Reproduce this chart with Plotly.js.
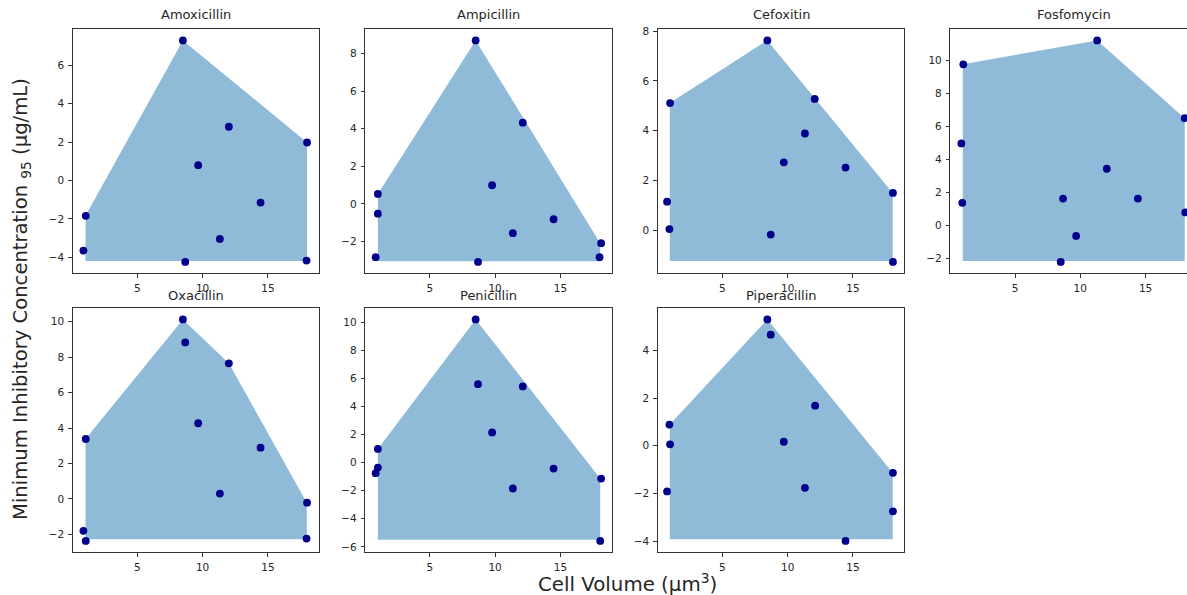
<!DOCTYPE html>
<html>
<head>
<meta charset="utf-8">
<script src="https://cdn.plot.ly/plotly-3.0.1.min.js"></script>
<style>html,body{margin:0;padding:0;background:#fff;}#chart{width:1187px;height:595px;}</style>
</head>
<body>
<div id="chart"></div>
<script>
// ---- data ----
const drugNames = ['Amoxicillin', 'Ampicillin', 'Cefoxitin', 'Fosfomycin', 'Oxacillin', 'Penicillin', 'Piperacillin'];

const amoxX = [8.49, 12.01, 9.66, 18.0, 14.44, 1.05, 11.32, 0.87, 8.67, 17.96];
const amoxY = [7.30, 2.80, 0.80, 1.98, -1.15, -1.84, -3.04, -3.65, -4.24, -4.17];
const ampX = [8.51, 12.12, 9.77, 1.02, 1.02, 14.48, 11.36, 18.12, 0.85, 18.0, 8.69];
const ampY = [8.70, 4.32, 0.99, 0.53, -0.52, -0.82, -1.56, -2.09, -2.84, -2.84, -3.09];
const cefX = [8.44, 0.99, 12.07, 11.32, 9.70, 14.43, 18.06, 0.76, 0.94, 8.70, 18.06];
const cefY = [7.63, 5.11, 5.28, 3.89, 2.73, 2.52, 1.50, 1.15, 0.05, -0.17, -1.27];
const fosX = [11.29, 1.04, 18.0, 0.89, 12.03, 8.68, 14.41, 0.96, 18.04, 9.68, 8.50];
const fosY = [11.19, 9.74, 6.49, 4.96, 3.43, 1.63, 1.63, 1.37, 0.79, -0.63, -2.20];
const oxaX = [8.49, 8.67, 12.01, 9.66, 1.05, 14.44, 11.32, 18.0, 0.87, 17.96, 1.05];
const oxaY = [10.13, 8.83, 7.65, 4.27, 3.38, 2.89, 0.30, -0.21, -1.80, -2.24, -2.37];
const penX = [8.51, 8.69, 12.12, 9.77, 1.02, 1.02, 14.48, 0.85, 18.12, 11.36, 18.05];
const penY = [10.19, 5.58, 5.42, 2.14, 0.97, -0.36, -0.43, -0.76, -1.14, -1.85, -5.58];
const pipX = [8.44, 8.70, 12.10, 0.94, 0.99, 9.70, 0.76, 11.32, 18.06, 18.06, 14.43];
const pipY = [5.29, 4.65, 1.68, 0.89, 0.06, 0.17, -1.91, -1.76, -1.13, -2.74, -3.98];

// upper edge of each shaded region (left to right) and its flat floor
const amoxHullX = [1.03, 8.49, 18.0];         const amoxHullY = [-1.84, 7.30, 1.98];
const ampHullX  = [1.02, 8.51, 18.05];        const ampHullY  = [0.53, 8.70, -2.09];
const cefHullX  = [0.97, 8.44, 18.04];        const cefHullY  = [5.11, 7.63, 1.50];
const fosHullX  = [1.0, 11.29, 18.0];         const fosHullY  = [9.74, 11.19, 6.49];
const oxaHullX  = [1.03, 8.49, 12.01, 17.98]; const oxaHullY  = [3.38, 10.13, 7.65, -0.21];
const penHullX  = [1.02, 8.51, 18.05];        const penHullY  = [0.97, 10.19, -1.14];
const pipHullX  = [0.97, 8.44, 18.04];        const pipHullY  = [0.89, 5.29, -1.13];
const hullFloors = [-4.19, -3.05, -1.23, -2.14, -2.27, -5.49, -3.91];

const xTickVals = [5, 10, 15];

// ---- layout geometry (pixels) ----
const W = 1187, H = 595;
const colLeft = [72.7, 365.2, 657.8, 950.4];
const colW = 246.5;
const rowTop = [29.3, 308.3];
const rowH = 243.7;

const series = [
  [amoxX, amoxY, amoxHullX, amoxHullY],
  [ampX, ampY, ampHullX, ampHullY],
  [cefX, cefY, cefHullX, cefHullY],
  [fosX, fosY, fosHullX, fosHullY],
  [oxaX, oxaY, oxaHullX, oxaHullY],
  [penX, penY, penHullX, penHullY],
  [pipX, pipY, pipHullX, pipHullY]
];

const traces = [];
const layout = {
  width: W, height: H,
  margin: {l: 0, r: 0, t: 0, b: 0},
  paper_bgcolor: '#ffffff', plot_bgcolor: '#ffffff',
  showlegend: false,
  font: {family: 'DejaVu Sans, sans-serif', color: '#262626'},
  annotations: []
};

const XR = [0.05, 18.93];

series.forEach((s, i) => {
  const [xs, ys, hx, hy] = s;
  const floor = hullFloors[i];
  const row = Math.floor(i / 4), col = i % 4;
  const k = i === 0 ? '' : String(i + 1);
  const xa = 'x' + k, ya = 'y' + k;

  // fill polygon
  const px = hx.concat([hx[hx.length - 1], hx[0]]);
  const py = hy.concat([floor, floor]);
  traces.push({
    type: 'scatter', mode: 'lines', x: px, y: py, fill: 'toself',
    fillcolor: 'rgba(31,119,180,0.5)', line: {width: 0, color: 'rgba(0,0,0,0)'},
    xaxis: xa, yaxis: ya, hoverinfo: 'skip'
  });
  traces.push({
    type: 'scatter', mode: 'markers', x: xs, y: ys,
    marker: {color: '#00008b', size: 7.8},
    xaxis: xa, yaxis: ya
  });

  const allY = ys.concat([floor]).concat(hy);
  const ymin = Math.min(...allY), ymax = Math.max(...allY);
  const pad = 0.05 * (ymax - ymin);

  const x0 = colLeft[col];
  let x1 = x0 + colW;
  let xr = XR.slice();
  let clipped = false;
  if (x1 > W) {
    clipped = true;
    xr = [XR[0], XR[0] + (W - x0) / colW * (XR[1] - XR[0])];
    x1 = W;
  }
  const y0 = rowTop[row], y1 = y0 + rowH;

  const axCommon = {
    showgrid: false, zeroline: false, showline: true, linecolor: '#333333', linewidth: 1,
    ticks: 'outside', ticklen: 3.5, tickwidth: 1, tickcolor: '#333333', ticklabelstandoff: 2,
    tickfont: {size: 10.5, color: '#262626', family: 'DejaVu Sans, sans-serif'}
  };
  layout['xaxis' + k] = Object.assign({}, axCommon, {
    domain: [x0 / W, x1 / W], range: xr, tickvals: xTickVals, mirror: true,
    anchor: ya
  });
  layout['yaxis' + k] = Object.assign({}, axCommon, {
    domain: [1 - y1 / H, 1 - y0 / H], range: [ymin - pad, ymax + pad], dtick: 2, tick0: 0,
    mirror: !clipped, anchor: xa, tickformat: 'd'
  });

  layout.annotations.push({
    text: drugNames[i], xref: 'paper', yref: 'paper',
    x: (colLeft[col] + colW / 2) / W, y: 1 - (y0 - (row === 0 ? 5 : 3)) / H,
    xanchor: 'center', yanchor: 'bottom', showarrow: false,
    font: {size: 13, color: '#262626', family: 'DejaVu Sans, sans-serif'}
  });
});

layout.annotations.push({
  text: 'Cell Volume (µm<sup>3</sup>)', xref: 'paper', yref: 'paper',
  x: 627 / W, y: 1 - 583 / H, xanchor: 'center', yanchor: 'middle', showarrow: false,
  font: {size: 19.8, color: '#262626', family: 'DejaVu Sans, sans-serif'}
});
layout.annotations.push({
  text: 'Minimum Inhibitory Concentration <sub>95</sub> (µg/mL)', xref: 'paper', yref: 'paper',
  x: 21 / W, y: 1 - 299 / H, xanchor: 'center', yanchor: 'middle', showarrow: false, textangle: -90,
  font: {size: 19.6, color: '#262626', family: 'DejaVu Sans, sans-serif'}
});

Plotly.newPlot('chart', traces, layout, {displayModeBar: false, staticPlot: true});
</script>
</body>
</html>
